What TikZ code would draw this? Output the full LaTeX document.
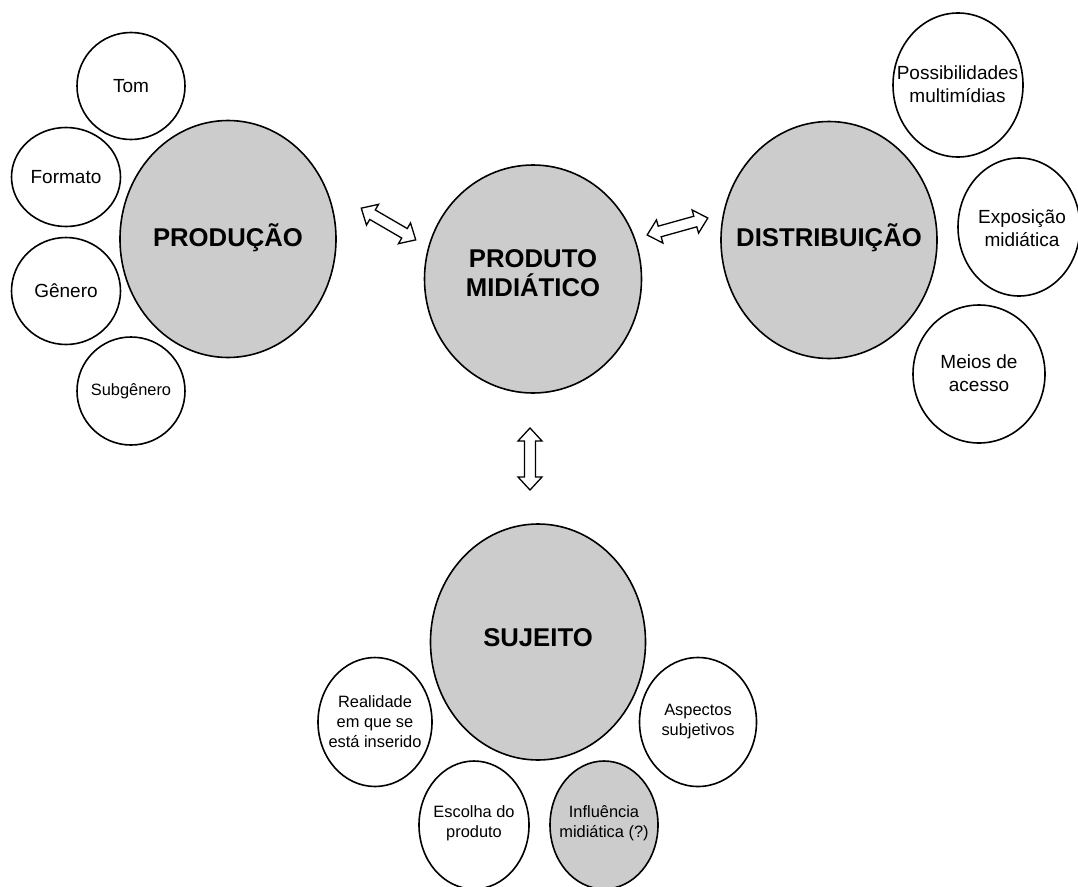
\documentclass[tikz,border=0pt]{standalone}
\usepackage{fontspec}
\setmainfont{Liberation Sans}
\usetikzlibrary{shapes.geometric}
\definecolor{bubblegray}{RGB}{204,204,204}
\tikzset{
  bubble/.style={ellipse, draw=black, line width=1.6pt, fill=white, inner sep=0pt},
  graybubble/.style={bubble, fill=bubblegray},
  bigtext/.style={inner sep=0pt, align=center, text=black, font=\fontsize{25.7}{29}\selectfont\bfseries},
  medtext/.style={inner sep=0pt, align=center, text=black, font=\fontsize{19}{23}\selectfont},
  smalltext/.style={inner sep=0pt, align=center, text=black, font=\fontsize{16.4}{20}\selectfont},
  hollowarrow/.style={draw=black, line width=1.3pt, fill=white, line join=miter}
}
\newcommand{\hollowdoublearrow}[3]{% center, angle, length
  \begin{scope}[shift={#1}, rotate=#2]
    \pgfmathsetmacro{\hl}{#3/2}
    \pgfmathsetmacro{\hb}{#3/2-13}
    \draw[hollowarrow] (-\hl,0) -- (-\hb,12) -- (-\hb,5.5) -- (\hb,5.5) -- (\hb,12) -- (\hl,0)
      -- (\hb,-12) -- (\hb,-5.5) -- (-\hb,-5.5) -- (-\hb,-12) -- cycle;
  \end{scope}}
\begin{document}
\begin{tikzpicture}[x=1pt,y=-1pt]
\useasboundingbox (0,0) rectangle (1078,886);
\clip (0,0) rectangle (1078,886);
% Producao group
\node[bubble, minimum width=108pt, minimum height=107pt] (tom) at (131,86) {};
\node[medtext] (tomT) at (tom) {Tom};
\node[bubble, minimum width=109pt, minimum height=99pt] (formato) at (66,177) {};
\node[medtext] (formatoT) at (formato) {Formato};
\node[bubble, minimum width=109pt, minimum height=107pt] (genero) at (66,291) {};
\node[medtext] (generoT) at (genero) {Gênero};
\node[bubble, minimum width=108pt, minimum height=108pt] (subgenero) at (131,391) {};
\node[smalltext] (subgeneroT) at (subgenero) {Subgênero};
\node[graybubble, minimum width=216pt, minimum height=237pt] (producao) at (228,239) {};
\node[bigtext] (producaoT) at (228,238) {PRODUÇÃO};
% Produto
\node[graybubble, minimum width=217pt, minimum height=228pt] (produto) at (533,279) {};
\node[bigtext] (produtoT) at (533,273) {PRODUTO\\MIDIÁTICO};
% Distribuicao group
\node[graybubble, minimum width=216pt, minimum height=237pt] (distribuicao) at (829,240) {};
\node[bigtext] (distribuicaoT) at (829,238) {DISTRIBUIÇÃO};
\node[bubble, minimum width=130pt, minimum height=144pt] (possib) at (958,85) {};
\node[medtext] (possibT) at (957.5,84) {Possibilidades\\multimídias};
\node[bubble, minimum width=122pt, minimum height=138pt] (exposicao) at (1019,227) {};
\node[medtext] (exposicaoT) at (1022,228) {Exposição\\midiática};
\node[bubble, minimum width=132pt, minimum height=138pt] (meios) at (979,374) {};
\node[medtext] (meiosT) at (979,373) {Meios de\\acesso};
% Sujeito group
\node[graybubble, minimum width=215pt, minimum height=236pt] (sujeito) at (538,642) {};
\node[bigtext] (sujeitoT) at (538,638) {SUJEITO};
\node[bubble, minimum width=114pt, minimum height=129pt] (realidade) at (375,722) {};
\node[smalltext] (realidadeT) at (375,722) {Realidade\\em que se\\está inserido};
\node[bubble, minimum width=117pt, minimum height=129pt] (aspectos) at (698,722) {};
\node[smalltext] (aspectosT) at (698,722) {Aspectos\\subjetivos};
\node[bubble, minimum width=110pt, minimum height=128pt] (escolha) at (474,825) {};
\node[smalltext] (escolhaT) at (474,823) {Escolha do\\produto};
\node[graybubble, minimum width=108pt, minimum height=128pt] (influencia) at (604,825) {};
\node[smalltext] (influenciaT) at (604,823) {Influência\\midiática (?)};
% arrows
\hollowdoublearrow{(388.5,224)}{-30.2}{63}
\hollowdoublearrow{(677.5,226.5)}{15.6}{63}
\hollowdoublearrow{(530,459)}{90}{62}
\end{tikzpicture}
\end{document}
